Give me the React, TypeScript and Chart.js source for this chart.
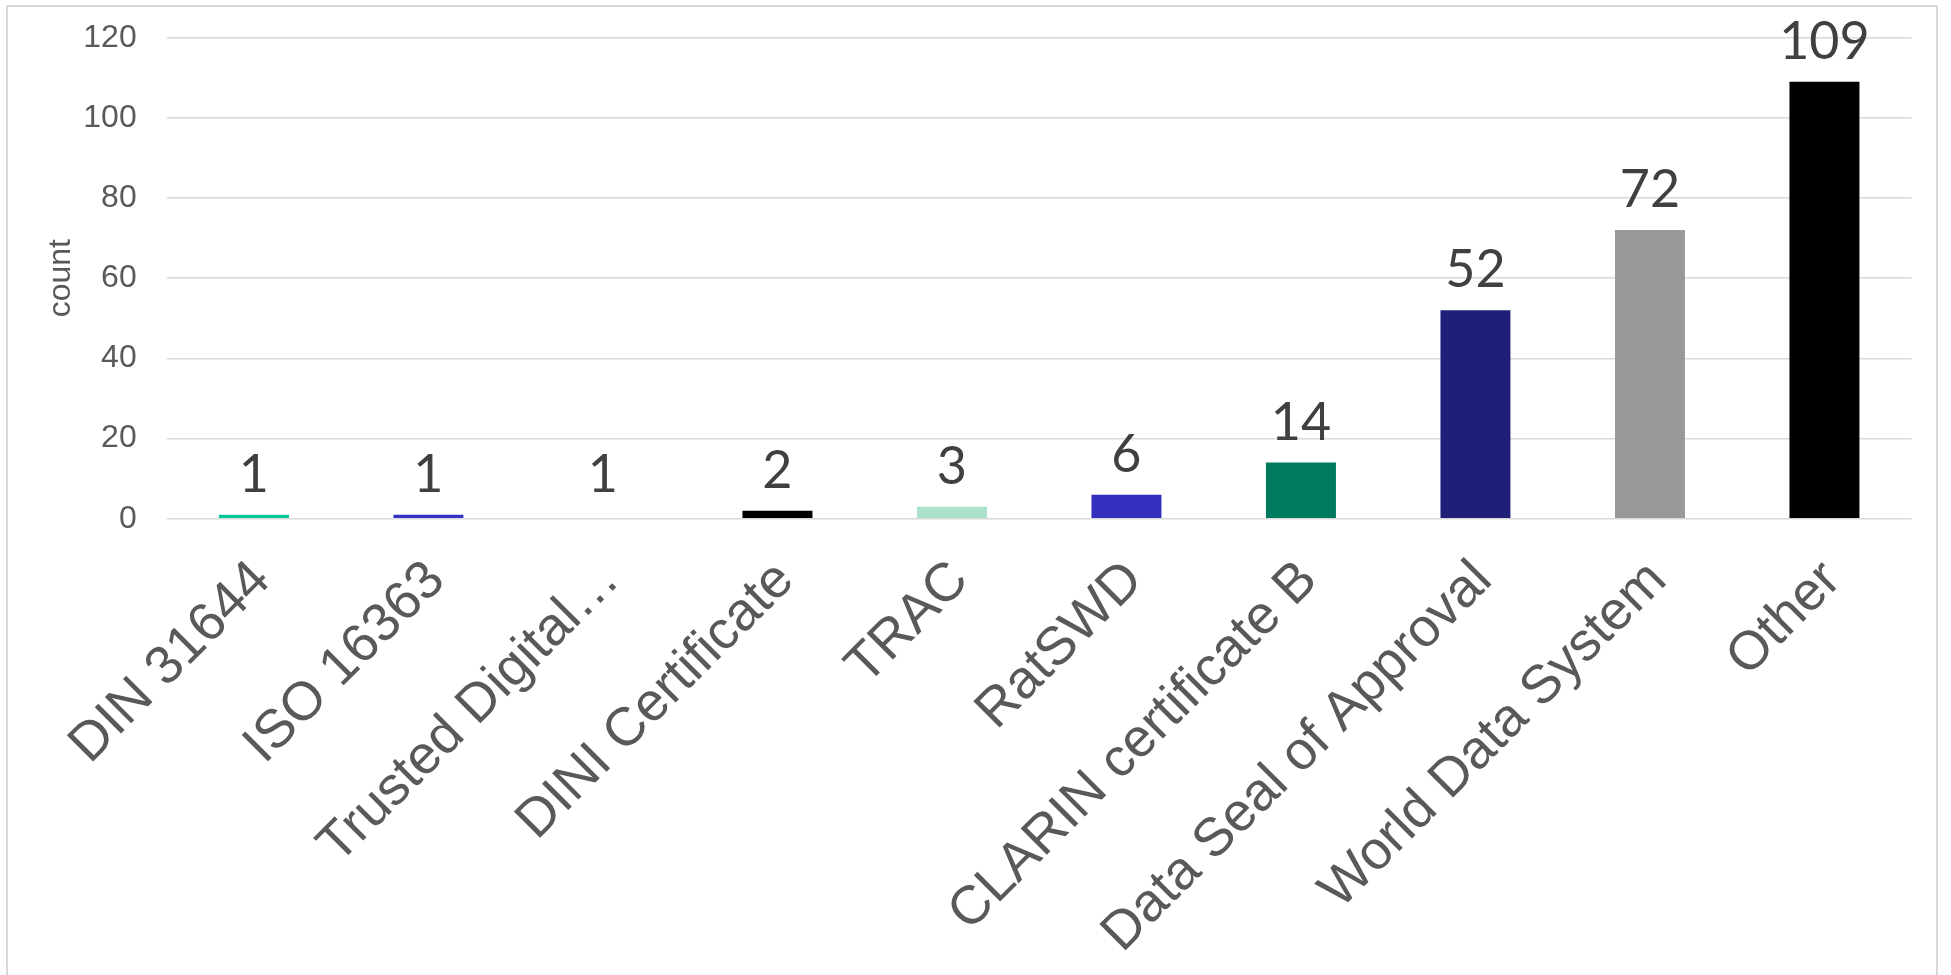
import React, { useEffect, useRef } from "react";
import { Chart, registerables } from "chart.js";

Chart.register(...registerables);

// ---- data ----
const categories = [
  "DIN 31644",
  "ISO 16363",
  "Trusted Digital…",
  "DINI Certificate",
  "TRAC",
  "RatSWD",
  "CLARIN certificate B",
  "Data Seal of Approval",
  "World Data System",
  "Other",
];
const counts = [1, 1, 1, 2, 3, 6, 14, 52, 72, 109];
const barColors = [
  "#00C896",
  "#3333C8",
  "#FFFFFF",
  "#000000",
  "#AAE3C9",
  "#3330BF",
  "#007A5E",
  "#201F78",
  "#999999",
  "#000000",
];
const yTickValues = [0, 20, 40, 60, 80, 100, 120];
const yTitle = "count";

const W = 1951;
const H = 975;

const valueLabels = {
  id: "valueLabels",
  afterDatasetsDraw(chart: any) {
    const ctx = chart.ctx;
    const meta = chart.getDatasetMeta(0);
    ctx.save();
    ctx.font = "52px Lato, 'Open Sans', sans-serif";
    ctx.fillStyle = "#404040";
    ctx.textAlign = "center";
    ctx.textBaseline = "alphabetic";
    meta.data.forEach((el: any, i: number) => {
      ctx.fillText(String(counts[i]), el.x, el.y - 23);
    });
    ctx.restore();
  },
};

export default function App() {
  const ref = useRef<HTMLCanvasElement | null>(null);

  useEffect(() => {
    if (!ref.current) return;
    const chart = new Chart(ref.current, {
      type: "bar",
      data: {
        labels: categories,
        datasets: [
          {
            data: counts,
            backgroundColor: barColors,
            borderWidth: 0,
            categoryPercentage: 1,
            barPercentage: 0.401,
          },
        ],
      },
      options: {
        animation: false,
        responsive: false,
        devicePixelRatio: 1,
        layout: {
          padding: { left: 0, top: 37.7, right: 39.3, bottom: 0 },
        },
        plugins: {
          legend: { display: false },
          tooltip: { enabled: false },
        },
        scales: {
          x: {
            grid: { display: false, drawTicks: false },
            border: { display: false },
            ticks: {
              autoSkip: false,
              minRotation: 45,
              maxRotation: 45,
              padding: 30,
              labelOffset: 8,
              color: "#595959",
              font: { family: "'Liberation Sans', Arial, sans-serif", size: 54 },
            },
            afterFit: (scale: any) => {
              scale.height = H - 518.7;
              scale.paddingLeft = 0;
              scale.paddingRight = 0;
            },
          },
          y: {
            min: yTickValues[0],
            max: yTickValues[yTickValues.length - 1],
            grid: { color: "#D9D9D9", lineWidth: 1.5, drawTicks: false },
            border: { display: false },
            ticks: {
              stepSize: yTickValues[1] - yTickValues[0],
              padding: 30,
              color: "#595959",
              font: { family: "'Liberation Sans', Arial, sans-serif", size: 32 },
            },
            title: {
              display: true,
              text: yTitle,
              color: "#595959",
              font: { family: "'Liberation Sans', Arial, sans-serif", size: 32 },
              padding: { top: 42, bottom: 0 },
            },
            afterFit: (scale: any) => {
              scale.width = 166.7;
              scale.paddingTop = 0;
              scale.paddingBottom = 0;
            },
          },
        },
      },
      plugins: [valueLabels],
    });
    return () => chart.destroy();
  }, []);

  return (
    <div
      style={{
        position: "absolute",
        left: 0,
        top: 0,
        width: W,
        height: H,
        overflow: "hidden",
        background: "#FFFFFF",
      }}
    >
      <div
        style={{
          position: "absolute",
          left: 6,
          top: 5,
          width: 1932,
          height: H,
          borderLeft: "2px solid #D9D9D9",
          borderTop: "2px solid #D9D9D9",
          borderRight: "2px solid #D9D9D9",
          boxSizing: "border-box",
        }}
      />
      <canvas
        ref={ref}
        width={W}
        height={H}
        style={{ position: "absolute", left: 0, top: 0, width: W, height: H }}
      />
    </div>
  );
}
